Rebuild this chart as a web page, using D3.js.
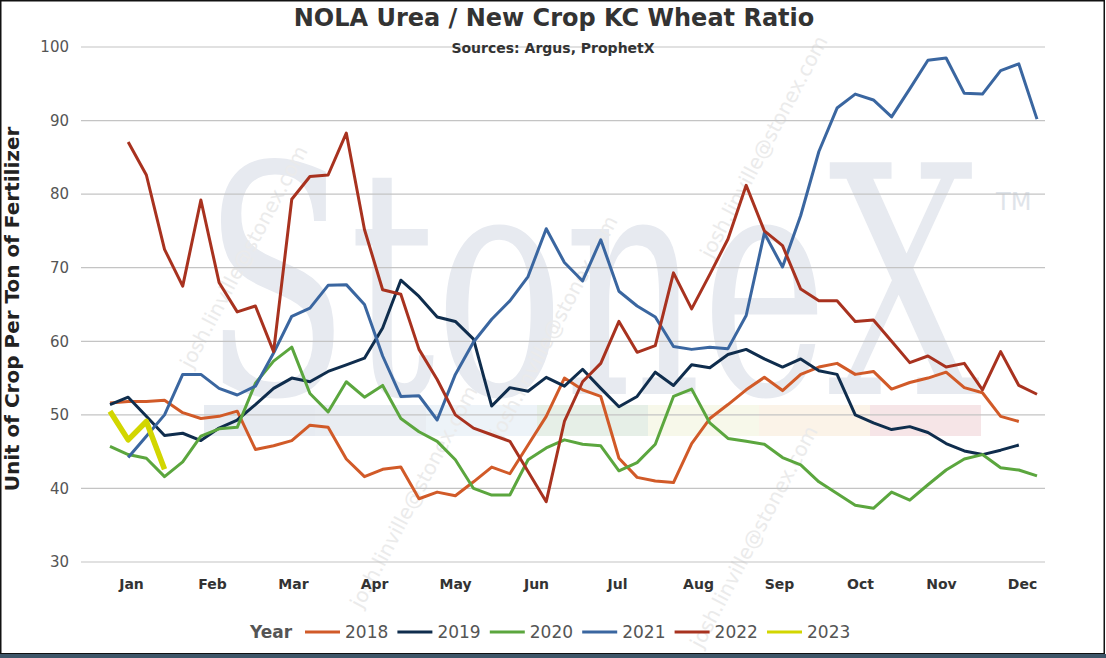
<!DOCTYPE html>
<html>
<head>
<meta charset="utf-8">
<script src="https://cdn.jsdelivr.net/npm/d3@7"></script>
<style>
  body { margin: 0; background: #fff; }
  svg { display: block; }
</style>
</head>
<body>
<div id="chart"></div>
<script>
// weekly ratio values, index 0..51 = week of year (null = no data)
const y2018 = [51.6, 51.8, 51.8, 52.0, 50.3, 49.5, 49.8, 50.5, 45.3, 45.8, 46.5, 48.6, 48.3, 44.0, 41.6, 42.6,
  42.9, 38.6, 39.5, 39.0, 40.9, 42.9, 42.0, 45.9, 49.8, 55.0, 53.4, 52.5, 44.1, 41.5, 41.0, 40.8,
  46.1, 49.5, 51.4, 53.4, 55.1, 53.3, 55.5, 56.5, 57.0, 55.5, 55.9, 53.5, 54.4, 55.0, 55.8, 53.7,
  53.0, 49.8, 49.1, null];
const y2019 = [51.4, 52.4, 49.8, 47.2, 47.5, 46.5, 48.2, 49.3, 51.4, 53.6, 55.0, 54.5, 55.9, 56.8, 57.7, 61.8,
  68.3, 66.1, 63.3, 62.7, 60.3, 51.2, 53.7, 53.2, 55.1, 53.9, 56.2, 53.6, 51.1, 52.5, 55.8, 54.0,
  56.8, 56.4, 58.2, 58.9, 57.6, 56.5, 57.6, 56.0, 55.5, 50.0, 48.9, 48.0, 48.4, 47.6, 46.1, 45.1,
  44.6, 45.2, 45.9, null];
const y2020 = [45.7, 44.6, 44.1, 41.6, 43.6, 47.1, 48.1, 48.3, 54.3, 57.3, 59.2, 52.9, 50.4, 54.5, 52.4, 54.0,
  49.5, 47.7, 46.4, 43.9, 40.0, 39.1, 39.1, 43.9, 45.5, 46.6, 46.0, 45.8, 42.4, 43.5, 46.0, 52.5,
  53.5, 48.9, 46.8, 46.4, 46.0, 44.2, 43.2, 40.9, 39.3, 37.7, 37.3, 39.5, 38.4, 40.5, 42.5, 44.0,
  44.6, 42.8, 42.5, 41.7];
const y2021 = [null, 44.2, 47.1, 50.0, 55.5, 55.5, 53.6, 52.7, 53.9, 58.4, 63.4, 64.5, 67.6, 67.7, 65.0, 58.0,
  52.5, 52.6, 49.3, 55.5, 59.9, 63.0, 65.5, 68.8, 75.3, 70.7, 68.2, 73.8, 66.8, 64.8, 63.3, 59.3,
  58.9, 59.2, 59.0, 63.5, 74.7, 70.1, 77.1, 85.8, 91.7, 93.6, 92.8, 90.5, 94.3, 98.2, 98.5, 93.7,
  93.6, 96.8, 97.7, 90.2];
const y2022 = [null, 87.1, 82.6, 72.5, 67.5, 79.2, 68.0, 64.0, 64.8, 58.6, 79.3, 82.4, 82.6, 88.3, 75.2, 67.0,
  66.4, 58.9, 54.8, 50.0, 48.2, 47.3, 46.4, 42.3, 38.2, 49.1, 54.5, 57.0, 62.7, 58.5, 59.4, 69.3,
  64.4, 69.1, 73.9, 81.2, 75.0, 73.0, 67.1, 65.5, 65.5, 62.7, 62.9, 60.0, 57.1, 58.0, 56.5, 57.0,
  53.4, 58.6, 54.0, 52.8];
const y2023 = [50.5, 46.6, 49.1, 42.6];

const years = ["2018", "2019", "2020", "2021", "2022", "2023"];
const seriesValues = [y2018, y2019, y2020, y2021, y2022, y2023];
const colors = ["#d15a28", "#0f2d4d", "#5ba63e", "#3a66a0", "#a8321f", "#d2d600"];
const months = ["Jan", "Feb", "Mar", "Apr", "May", "Jun", "Jul", "Aug", "Sep", "Oct", "Nov", "Dec"];
const yTicks = [30, 40, 50, 60, 70, 80, 90, 100];

const W = 1106, H = 658;
const svg = d3.select("#chart").append("svg")
  .attr("width", W).attr("height", H);

const font = "'DejaVu Sans', Verdana, sans-serif";

const x = d3.scaleLinear().domain([0, 51]).range([110, 1037]);
const y = d3.scaleLinear().domain([30, 100]).range([562, 47]);
const xMonth = d3.scalePoint().domain(months).range([131, 1022]);

// watermark logo
const wm = svg.append("g");
wm.append("text")
  .attr("x", 203).attr("y", 394)
  .attr("textLength", 777).attr("lengthAdjust", "spacingAndGlyphs")
  .style("font-family", "'DejaVu Serif', 'Liberation Serif', serif")
  .style("font-size", "318px")
  .style("fill", "#e7eaf0")
  .text("StoneX");
wm.append("text")
  .attr("x", 996).attr("y", 210)
  .style("font-family", font).style("font-size", "24px")
  .style("fill", "#dfe4ea")
  .text("TM");
const bandColors = ["#e7ebf1", "#e9edf2", "#edf3f8", "#e6efe7", "#f7f8ea", "#fbf3e8", "#f6e5e7"];
wm.selectAll("rect.band")
  .data(bandColors).join("rect")
  .attr("class", "band")
  .attr("x", (d, i) => 204 + i * 111)
  .attr("y", 405)
  .attr("width", 111).attr("height", 31)
  .attr("fill", d => d);

// diagonal email watermark
const marks = [[420, 500], [760, 540], [770, 150], [250, 260], [560, 330]];
svg.append("g").selectAll("text")
  .data(marks).join("text")
  .attr("transform", d => `translate(${d[0]},${d[1]}) rotate(-62)`)
  .attr("text-anchor", "middle")
  .style("font-family", font).style("font-size", "20px")
  .style("fill", "#ebebeb")
  .text("josh.linville@stonex.com");

// grid
svg.append("g").selectAll("line")
  .data(yTicks).join("line")
  .attr("x1", 81).attr("x2", 1045)
  .attr("y1", d => y(d)).attr("y2", d => y(d))
  .attr("stroke", "#c4c4c4").attr("stroke-width", 1.2);

// y axis labels
const yAxis = svg.append("g")
  .attr("transform", "translate(81,0)")
  .call(d3.axisLeft(y).tickValues(yTicks).tickSize(0).tickPadding(12));
yAxis.select(".domain").remove();
yAxis.selectAll("text")
  .style("font-family", font).style("font-size", "15px").style("fill", "#555");

// x axis month labels
const xAxis = svg.append("g")
  .attr("transform", "translate(0,562)")
  .call(d3.axisBottom(xMonth).tickSize(0).tickPadding(17));
xAxis.select(".domain").remove();
xAxis.selectAll("text")
  .style("font-family", font).style("font-size", "14px")
  .style("font-weight", "bold").style("fill", "#333");

// lines
const line = d3.line()
  .defined(d => d != null)
  .x((d, i) => x(i))
  .y(d => y(d));

svg.append("g").selectAll("path")
  .data(seriesValues).join("path")
  .attr("d", d => line(d))
  .attr("fill", "none")
  .attr("stroke", (d, i) => colors[i])
  .attr("stroke-width", (d, i) => years[i] === "2023" ? 5.5 : 3)
  .attr("stroke-linejoin", "round")
  .attr("stroke-linecap", "butt");

// titles
svg.append("text")
  .attr("x", 554).attr("y", 26)
  .attr("text-anchor", "middle")
  .style("font-family", font).style("font-size", "24px")
  .style("font-weight", "bold").style("fill", "#333")
  .text("NOLA Urea / New Crop KC Wheat Ratio");
svg.append("text")
  .attr("x", 553).attr("y", 53)
  .attr("text-anchor", "middle")
  .style("font-family", font).style("font-size", "14px")
  .style("font-weight", "bold").style("fill", "#333")
  .text("Sources: Argus, ProphetX");
svg.append("text")
  .attr("transform", "translate(19,309) rotate(-90)")
  .attr("text-anchor", "middle")
  .style("font-family", font).style("font-size", "20px")
  .style("font-weight", "bold").style("fill", "#222")
  .text("Unit of Crop Per Ton of Fertilizer");

// legend
const legend = svg.append("g").attr("transform", "translate(0,632)");
legend.append("text")
  .attr("x", 250).attr("y", 6)
  .style("font-family", font).style("font-size", "17px")
  .style("font-weight", "bold").style("fill", "#555")
  .text("Year");
const item = legend.selectAll("g.item")
  .data(years).join("g")
  .attr("class", "item")
  .attr("transform", (d, i) => `translate(${305 + i * 92.4},0)`);
item.append("line")
  .attr("x1", 0).attr("x2", 35)
  .attr("stroke", (d, i) => colors[i])
  .attr("stroke-width", 3);
item.append("text")
  .attr("x", 40).attr("y", 6)
  .style("font-family", font).style("font-size", "17px")
  .style("fill", "#555")
  .text(d => d);

// frame
svg.append("rect")
  .attr("x", 0.75).attr("y", 0.75)
  .attr("width", 1103.5).attr("height", 653)
  .attr("fill", "none").attr("stroke", "#111").attr("stroke-width", 1.5);
svg.append("rect")
  .attr("x", 0).attr("y", 654)
  .attr("width", W).attr("height", 4)
  .attr("fill", "#3e5669");
</script>
</body>
</html>
